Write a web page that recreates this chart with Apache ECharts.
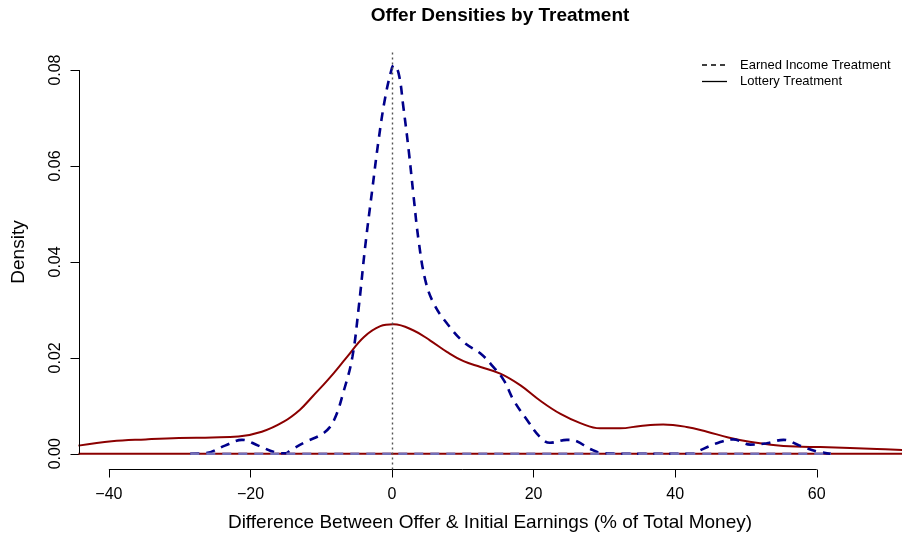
<!DOCTYPE html>
<html>
<head>
<meta charset="utf-8">
<script src="https://cdn.jsdelivr.net/npm/echarts@6/dist/echarts.min.js"></script>
<style>
  html, body { margin: 0; padding: 0; background: #fff; }
  #chart { width: 902px; height: 540px; }
</style>
</head>
<body>
<div id="chart"></div>
<script>
// Kernel density estimates of offers, by treatment
const LOTTERY_X = [-44.3, -39.6, -34.8, -30.1, -25.4, -21.7, -18.4, -15.3, -13.0, -11.2, -9.0, -6.35, -4.0, -1.65, 0.2,
  3.05, 5.4, 7.8, 10.1, 12.5, 15.3, 18.1, 20.9, 23.8, 26.6, 29.4, 32.2, 35.1, 38.3, 41.6, 44.5, 47.5, 50.5, 53.5,
  57.0, 60.5, 64.7, 68.5, 72.1];
const LOTTERY_Y = [0.0017, 0.0026, 0.0030, 0.0033, 0.0034, 0.0036, 0.0046, 0.0067, 0.0092, 0.0120, 0.0155, 0.0202,
  0.0243, 0.0266, 0.0270, 0.0257, 0.0236, 0.0212, 0.0193, 0.0181, 0.0167, 0.0143, 0.0111, 0.0083, 0.0064, 0.0053,
  0.0053, 0.0058, 0.0061, 0.0056, 0.0046, 0.0034, 0.0025, 0.0019, 0.0015, 0.0014, 0.0012, 0.0010, 0.0008];

const EARNED_X = [-28.5, -26.4, -23.6, -21.2, -18.9, -16.5, -15.0, -14.4, -12.3, -9.6, -8.2, -6.8, -5.6, -4.7, -3.8,
  -2.8, -1.9, -0.95, 0.0, 0.25, 0.93, 1.6, 2.35, 3.05, 3.75, 4.7, 5.9, 7.8, 10.1, 12.5, 14.3, 15.8, 17.2, 19.1, 20.9,
  22.3, 24.7, 26.1, 28.0, 29.9, 35.0, 42.6, 43.5, 45.9, 48.2, 50.6, 52.9, 55.3, 57.6, 60.0, 62.0];
const EARNED_Y = [0, 0.0001, 0.0017, 0.0029, 0.0017, 0.0003, 0.0001, 0.0007, 0.0024, 0.0044, 0.0070, 0.0132, 0.0202,
  0.0306, 0.0431, 0.0550, 0.0654, 0.0744, 0.0805, 0.0810, 0.0793, 0.0723, 0.0633, 0.0536, 0.0445, 0.0362, 0.0313,
  0.0271, 0.0233, 0.0209, 0.0181, 0.0153, 0.0111, 0.0070, 0.0035, 0.0023, 0.0029, 0.0026, 0.0010, 0.0001, 0, 0,
  0.0007, 0.0022, 0.0030, 0.0019, 0.0022, 0.0029, 0.0017, 0.0005, 0];

const X_TICKS = [-40, -20, 0, 20, 40, 60];
const Y_TICKS = [0, 0.02, 0.04, 0.06, 0.08];
const REFERENCE_X = 0;
const LEGEND_NAMES = ['Earned Income Treatment', 'Lottery Treatment'];

// Plot region limits (ranges padded like base R graphics)
const X_MIN = -44.15, X_MAX = 72.04;
const Y_MIN = -0.00328, Y_MAX = 0.08418;

const FONT = '"Liberation Sans", Arial, Helvetica, sans-serif';
const RED = '#8B0000';
const BLUE = '#00008B';

const zip = (xs, ys) => xs.map((x, i) => [x, ys[i]]);
const last = a => a[a.length - 1];

const chart = echarts.init(document.getElementById('chart'), null, { renderer: 'canvas' });

// Legend drawn as line samples + labels, top-right corner
const legendRow = (i, dash) => ({
  type: 'group', x: 702, y: 65 + i * 16.5,
  children: [
    { type: 'line', shape: { x1: 0, y1: 0, x2: 25, y2: 0 }, style: { stroke: '#000', lineWidth: 1.3, lineDash: dash } },
    { type: 'text', x: 38, y: 0, style: { text: LEGEND_NAMES[i], font: '13px ' + FONT, fill: '#000', align: 'left', verticalAlign: 'middle' } }
  ]
});

chart.setOption({
  animation: false,
  backgroundColor: '#fff',
  grid: { left: 79.5, right: 0, top: 50, bottom: 70.5, containLabel: false },
  xAxis: {
    type: 'value', min: X_MIN, max: X_MAX,
    axisLine: { show: false, onZero: false },
    splitLine: { show: false },
    axisTick: { show: true, length: 8, lineStyle: { color: '#000', width: 1 }, customValues: X_TICKS },
    axisLabel: {
      customValues: X_TICKS, margin: 17, color: '#000', fontSize: 16, fontFamily: FONT,
      formatter: v => (v < 0 ? '\u2212' + Math.abs(v) : String(v))
    }
  },
  yAxis: {
    type: 'value', min: Y_MIN, max: Y_MAX,
    axisLine: { show: false, onZero: false },
    splitLine: { show: false },
    axisTick: { show: true, length: 9, lineStyle: { color: '#000', width: 1 }, customValues: Y_TICKS },
    axisLabel: {
      customValues: Y_TICKS, rotate: 90, margin: 16, color: '#000', fontSize: 16, fontFamily: FONT,
      formatter: v => v.toFixed(2)
    }
  },
  graphic: [
    { type: 'text', x: 500, y: 16, style: { text: 'Offer Densities by Treatment', font: 'bold 19px ' + FONT, fill: '#000', align: 'center', verticalAlign: 'middle' } },
    { type: 'text', x: 490, y: 523, style: { text: 'Difference Between Offer & Initial Earnings (% of Total Money)', font: '19px ' + FONT, fill: '#000', align: 'center', verticalAlign: 'middle' } },
    { type: 'text', x: 19, y: 252, rotation: Math.PI / 2, style: { text: 'Density', font: '19px ' + FONT, fill: '#000', align: 'center', verticalAlign: 'middle' } },
    legendRow(0, [5, 4]),
    legendRow(1, null)
  ],
  series: [
    {
      name: 'Lottery Treatment', type: 'line', data: zip(LOTTERY_X, LOTTERY_Y),
      smooth: 0.4, symbol: 'none', lineStyle: { color: RED, width: 2 }, itemStyle: { color: RED }, z: 2
    },
    {
      name: 'lottery-base', type: 'line', data: [[LOTTERY_X[0], 0], [last(LOTTERY_X), 0]],
      symbol: 'none', lineStyle: { color: RED, width: 2 }, z: 2, silent: true
    },
    {
      name: 'Earned Income Treatment', type: 'line', data: zip(EARNED_X, EARNED_Y),
      smooth: 0.4, symbol: 'none', lineStyle: { color: BLUE, width: 2.6, type: [9, 7] }, itemStyle: { color: BLUE }, z: 3
    },
    {
      name: 'earned-base', type: 'line', data: [[EARNED_X[0], 0], [last(EARNED_X), 0]],
      symbol: 'none', lineStyle: { color: '#7470b8', width: 2.6, type: [9, 7] }, z: 3, silent: true
    },
    {
      name: 'axis-x', type: 'line', clip: false, symbol: 'none', silent: true, z: 4,
      data: [[X_TICKS[0], Y_MIN], [last(X_TICKS), Y_MIN]],
      lineStyle: { color: '#000', width: 1 }
    },
    {
      name: 'axis-y', type: 'line', clip: false, symbol: 'none', silent: true, z: 4,
      data: [[X_MIN, Y_TICKS[0]], [X_MIN, last(Y_TICKS)]],
      lineStyle: { color: '#000', width: 1 },
      markLine: {
        silent: true, symbol: 'none', label: { show: false },
        lineStyle: { color: '#555', width: 1.4, type: [2, 3] },
        data: [{ xAxis: REFERENCE_X }]
      }
    }
  ]
});
</script>
</body>
</html>
